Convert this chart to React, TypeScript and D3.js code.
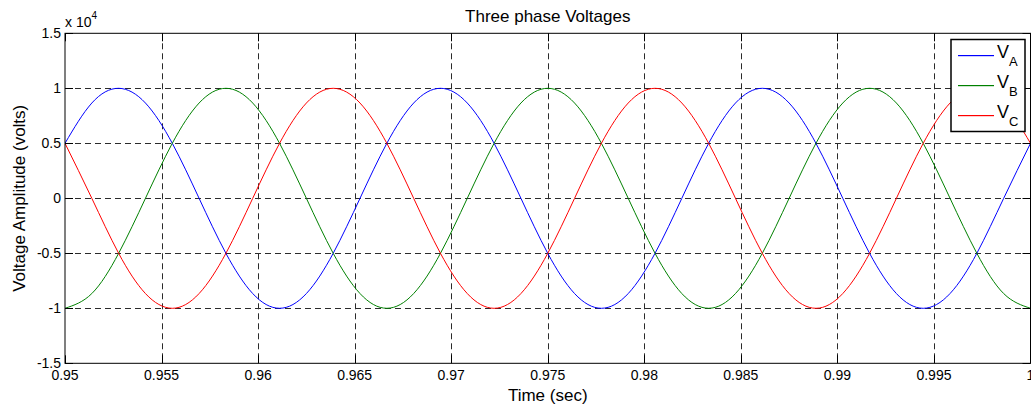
import React, { useRef, useEffect } from 'react';
import * as d3 from 'd3';

// sample times (sec), every 30 degrees of a 60 Hz cycle
const time = [
  0.95, 0.951389, 0.952778, 0.954167, 0.955556, 0.956944, 0.958333, 0.959722,
  0.961111, 0.9625, 0.963889, 0.965278, 0.966667, 0.968056, 0.969444, 0.970833,
  0.972222, 0.973611, 0.975, 0.976389, 0.977778, 0.979167, 0.980556, 0.981944,
  0.983333, 0.984722, 0.986111, 0.9875, 0.988889, 0.990278, 0.991667, 0.993056,
  0.994444, 0.995833, 0.997222, 0.998611, 1.0
];

// phase voltages (volts)
const vA = [
  5000, 8660, 10000, 8660, 5000, 0, -5000, -8660, -10000, -8660, -5000, 0,
  5000, 8660, 10000, 8660, 5000, 0, -5000, -8660, -10000, -8660, -5000, 0,
  5000, 8660, 10000, 8660, 5000, 0, -5000, -8660, -10000, -8660, -5000, 0,
  5000
];
const vB = [
  -10000, -8660, -5000, 0, 5000, 8660, 10000, 8660, 5000, 0, -5000, -8660,
  -10000, -8660, -5000, 0, 5000, 8660, 10000, 8660, 5000, 0, -5000, -8660,
  -10000, -8660, -5000, 0, 5000, 8660, 10000, 8660, 5000, 0, -5000, -8660,
  -10000
];
const vC = [
  5000, 0, -5000, -8660, -10000, -8660, -5000, 0, 5000, 8660, 10000, 8660,
  5000, 0, -5000, -8660, -10000, -8660, -5000, 0, 5000, 8660, 10000, 8660,
  5000, 0, -5000, -8660, -10000, -8660, -5000, 0, 5000, 8660, 10000, 8660,
  5000
];

const xTicks = [0.95, 0.955, 0.96, 0.965, 0.97, 0.975, 0.98, 0.985, 0.99, 0.995, 1];
const xTickLabels = ['0.95', '0.955', '0.96', '0.965', '0.97', '0.975', '0.98', '0.985', '0.99', '0.995', '1'];
const yTicks = [-15000, -10000, -5000, 0, 5000, 10000, 15000];
const yTickLabels = ['-1.5', '-1', '-0.5', '0', '0.5', '1', '1.5'];

const seriesNames = ['A', 'B', 'C'];
const seriesColors = ['#0000ff', '#008000', '#ff0000'];

const App = () => {
  const svgRef = useRef<SVGSVGElement>(null);

  useEffect(() => {
    const width = 1031;
    const height = 405;
    const left = 65, right = 1030.5, top = 33.3, bottom = 363.3;
    const font = 'Liberation Sans, Arial, sans-serif';

    const svg = d3.select(svgRef.current);
    svg.selectAll('*').remove();
    svg.attr('width', width).attr('height', height);

    svg.append('rect').attr('width', width).attr('height', height).attr('fill', '#fff');

    const x = d3.scaleLinear().domain([0.95, 1]).range([left, right]);
    const y = d3.scaleLinear().domain([-15000, 15000]).range([bottom, top]);

    svg.append('defs').append('clipPath').attr('id', 'plot-clip')
      .append('rect')
      .attr('x', left).attr('y', top)
      .attr('width', right - left).attr('height', bottom - top);

    // grid
    const grid = svg.append('g')
      .attr('stroke', '#2b2b2b')
      .attr('stroke-width', 1)
      .attr('stroke-dasharray', '6,4');
    grid.selectAll('line.gx')
      .data(xTicks.slice(1, -1))
      .join('line')
      .attr('x1', d => Math.round(x(d)) + 0.5).attr('x2', d => Math.round(x(d)) + 0.5)
      .attr('y1', top).attr('y2', bottom);
    grid.selectAll('line.gy')
      .data(yTicks.slice(1, -1))
      .join('line')
      .attr('x1', left).attr('x2', right)
      .attr('y1', d => Math.round(y(d)) + 0.5).attr('y2', d => Math.round(y(d)) + 0.5);

    // series
    const series = [vA, vB, vC];
    const line = d3.line<number>()
      .x((d, i) => x(time[i]))
      .y(d => y(d))
      .curve(d3.curveNatural);

    svg.append('g')
      .attr('clip-path', 'url(#plot-clip)')
      .selectAll('path')
      .data(series)
      .join('path')
      .attr('d', d => line(d))
      .attr('fill', 'none')
      .attr('stroke', (d, i) => seriesColors[i])
      .attr('stroke-width', 1);

    // axes box and inner ticks
    const axes = svg.append('g').attr('stroke', '#000').attr('stroke-width', 1).attr('fill', 'none');
    axes.append('rect')
      .attr('x', left).attr('y', top)
      .attr('width', right - left).attr('height', bottom - top);
    const tickLen = 8;
    xTicks.forEach(t => {
      const px = Math.round(x(t)) + 0.5;
      axes.append('line').attr('x1', px).attr('x2', px).attr('y1', bottom).attr('y2', bottom - tickLen);
      axes.append('line').attr('x1', px).attr('x2', px).attr('y1', top).attr('y2', top + tickLen);
    });
    yTicks.forEach(v => {
      const py = Math.round(y(v)) + 0.5;
      axes.append('line').attr('x1', left).attr('x2', left + tickLen).attr('y1', py).attr('y2', py);
      axes.append('line').attr('x1', right).attr('x2', right - tickLen).attr('y1', py).attr('y2', py);
    });

    // tick labels
    svg.append('g')
      .selectAll('text')
      .data(xTicks)
      .join('text')
      .attr('x', d => x(d))
      .attr('y', 380)
      .attr('text-anchor', 'middle')
      .style('font-family', font)
      .style('font-size', '14px')
      .text((d, i) => xTickLabels[i]);

    svg.append('g')
      .selectAll('text')
      .data(yTicks)
      .join('text')
      .attr('x', left - 4)
      .attr('y', d => y(d) + 5)
      .attr('text-anchor', 'end')
      .style('font-family', font)
      .style('font-size', '14px')
      .text((d, i) => yTickLabels[i]);

    // exponent label
    const expo = svg.append('text')
      .attr('x', left)
      .attr('y', 27)
      .style('font-family', font)
      .style('font-size', '14px');
    expo.append('tspan').text('x 10');
    expo.append('tspan').attr('dy', -8).style('font-size', '10px').text('4');

    // title and axis labels
    svg.append('text')
      .attr('x', (left + right) / 2)
      .attr('y', 22)
      .attr('text-anchor', 'middle')
      .style('font-family', font)
      .style('font-size', '17px')
      .text('Three phase Voltages');

    svg.append('text')
      .attr('x', (left + right) / 2)
      .attr('y', 401)
      .attr('text-anchor', 'middle')
      .style('font-family', font)
      .style('font-size', '17px')
      .text('Time (sec)');

    svg.append('text')
      .attr('transform', `translate(25,${(top + bottom) / 2}) rotate(-90)`)
      .attr('text-anchor', 'middle')
      .style('font-family', font)
      .style('font-size', '17px')
      .text('Voltage Amplitude (volts)');

    // legend
    const legend = svg.append('g');
    legend.append('rect')
      .attr('x', 951).attr('y', 39.5)
      .attr('width', 74).attr('height', 92)
      .attr('fill', '#fff')
      .attr('stroke', '#000')
      .attr('stroke-width', 1.5);
    const rowY = [55, 85, 115];
    legend.selectAll('rect.key')
      .data(seriesColors)
      .join('rect')
      .attr('class', 'key')
      .attr('x', 958)
      .attr('y', (d, i) => rowY[i])
      .attr('width', 36)
      .attr('height', 1.2)
      .attr('fill', d => d);
    seriesNames.forEach((name, i) => {
      const t = legend.append('text')
        .attr('x', 997)
        .attr('y', rowY[i] + 3)
        .style('font-family', font)
        .style('font-size', '18px');
      t.append('tspan').text('V');
      t.append('tspan').attr('dy', 8).style('font-size', '13px').text(name);
    });
  }, []);

  return (
    <div style={{ position: 'absolute', left: 0, top: 0 }}>
      <svg ref={svgRef} style={{ display: 'block' }}></svg>
    </div>
  );
};

export default App;
